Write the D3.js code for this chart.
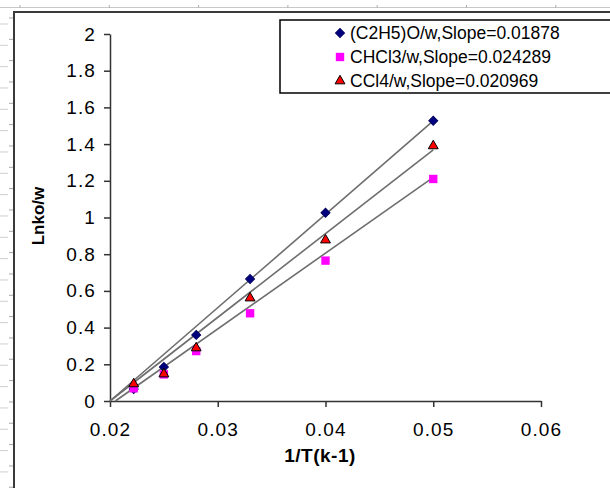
<!DOCTYPE html>
<html>
<head>
<meta charset="utf-8">
<script src="https://cdn.jsdelivr.net/npm/d3@7"></script>
<style>
  body { margin: 0; background: #fff; }
  svg { display: block; font-family: 'Liberation Sans', Arial, sans-serif; }
  .axis path, .axis line { stroke: #333; stroke-width: 1.5px; }
  .axis text { font-size: 19px; fill: #000; letter-spacing: 1.1px; }
</style>
</head>
<body>
<svg id="chart" width="610" height="488"></svg>
<script>
// Data
const xValues = [0.0222, 0.025, 0.028, 0.033, 0.040, 0.050];
const etherValues = [0.065, 0.185, 0.36, 0.665, 1.026, 1.527];
const chcl3Values = [0.069, 0.145, 0.272, 0.478, 0.765, 1.21];
const ccl4Values = [0.093, 0.147, 0.289, 0.561, 0.877, 1.39];

const seriesNames = ['(C2H5)O/w,Slope=0.01878', 'CHCl3/w,Slope=0.024289', 'CCl4/w,Slope=0.020969'];

// Trendlines: x where the line meets y = 0, and y reached at x = 0.05
const trendStartX = [0.02, 0.0205, 0.02];
const trendEndX = 0.05;
const trendEndY = [1.526, 1.219, 1.368];

const xTicks = [0.02, 0.03, 0.04, 0.05, 0.06];
const yTicks = [0, 0.2, 0.4, 0.6, 0.8, 1, 1.2, 1.4, 1.6, 1.8, 2];

const svg = d3.select('#chart');

// Spreadsheet frame behind the chart
const frame = svg.append('g');
frame.append('line').attr('x1', 0).attr('x2', 610).attr('y1', 7.5).attr('y2', 7.5)
  .style('stroke', '#c8c8c8').style('stroke-width', 1);
frame.selectAll('.col-tick').data(d3.range(20, 610, 89.3)).enter().append('line')
  .attr('x1', d => d).attr('x2', d => d).attr('y1', 5).attr('y2', 8)
  .style('stroke', '#b0b0b0');
frame.selectAll('.row-long').data(d3.range(24, 488, 21.33)).enter().append('line')
  .attr('x1', 0).attr('x2', 8).attr('y1', d => d).attr('y2', d => d)
  .style('stroke', '#cfcfcf').style('stroke-width', 1);
frame.selectAll('.row-short').data(d3.range(18, 488, 21.33)).enter().append('line')
  .attr('x1', 9).attr('x2', 14).attr('y1', d => d).attr('y2', d => d)
  .style('stroke', '#a8a8a8').style('stroke-width', 1);
frame.append('path').attr('d', 'M14,488V12H610')
  .style('fill', 'none').style('stroke', '#3a3a3a').style('stroke-width', 2);

// Scales
const x = d3.scaleLinear().domain([0.02, 0.06]).range([110, 541]);
const y = d3.scaleLinear().domain([0, 2]).range([401, 34]);

// Axes
svg.append('g')
  .attr('class', 'axis')
  .attr('transform', 'translate(0,401)')
  .call(d3.axisBottom(x).tickValues(xTicks).tickSize(6).tickSizeOuter(0).tickPadding(16)
    .tickFormat(d => String(+d.toFixed(2))));

svg.append('g')
  .attr('class', 'axis')
  .attr('transform', 'translate(110,0)')
  .call(d3.axisLeft(y).tickValues(yTicks).tickSize(6).tickSizeOuter(0).tickPadding(8)
    .tickFormat(d => String(+d.toFixed(1))));

// Axis titles
svg.append('text')
  .attr('x', 320).attr('y', 462)
  .attr('text-anchor', 'middle')
  .style('font-size', '19px').style('font-weight', 'bold').style('letter-spacing', '0.5px')
  .text('1/T(k-1)');

svg.append('text')
  .attr('transform', 'translate(44,216) rotate(-90)')
  .attr('text-anchor', 'middle')
  .style('font-size', '17px').style('font-weight', 'bold')
  .text('Lnko/w');

// Trendlines
const trendColor = '#6e6e6e';
trendStartX.forEach((x0, i) => {
  svg.append('line')
    .attr('x1', x(x0)).attr('y1', y(0))
    .attr('x2', x(trendEndX)).attr('y2', y(trendEndY[i]))
    .style('stroke', trendColor).style('stroke-width', 1.6);
});

// Marker drawing
const markerStyles = [
  { fill: '#000080', stroke: '#000060', path: d3.symbol().type(d3.symbolSquare).size(40)(), rotate: 45 },
  { fill: '#ff00ff', stroke: 'none', path: d3.symbol().type(d3.symbolSquare).size(70)(), rotate: 0 },
  { fill: '#ff0000', stroke: '#000', path: d3.symbol().type(d3.symbolTriangle).size(42)(), rotate: 0 }
];

function drawMarker(g, cx, cy, style) {
  g.append('path')
    .attr('d', style.path)
    .attr('transform', `translate(${cx},${cy}) rotate(${style.rotate})`)
    .style('fill', style.fill)
    .style('stroke', style.stroke)
    .style('stroke-width', 1);
}

const seriesValues = [etherValues, chcl3Values, ccl4Values];
const markers = svg.append('g');
seriesValues.forEach((vals, i) => {
  vals.forEach((v, j) => drawMarker(markers, x(xValues[j]), y(v), markerStyles[i]));
});

// Legend
const legend = svg.append('g');
legend.append('rect')
  .attr('x', 280).attr('y', 20).attr('width', 340).attr('height', 73)
  .style('fill', '#fff').style('stroke', '#000').style('stroke-width', 1.5);

seriesNames.forEach((name, i) => {
  const cy = 33 + i * 24;
  drawMarker(legend, 340, cy, markerStyles[i]);
  legend.append('text')
    .attr('x', 350).attr('y', cy + 6)
    .style('font-size', '17.5px').style('fill', '#000')
    .text(name);
});
</script>
</body>
</html>
